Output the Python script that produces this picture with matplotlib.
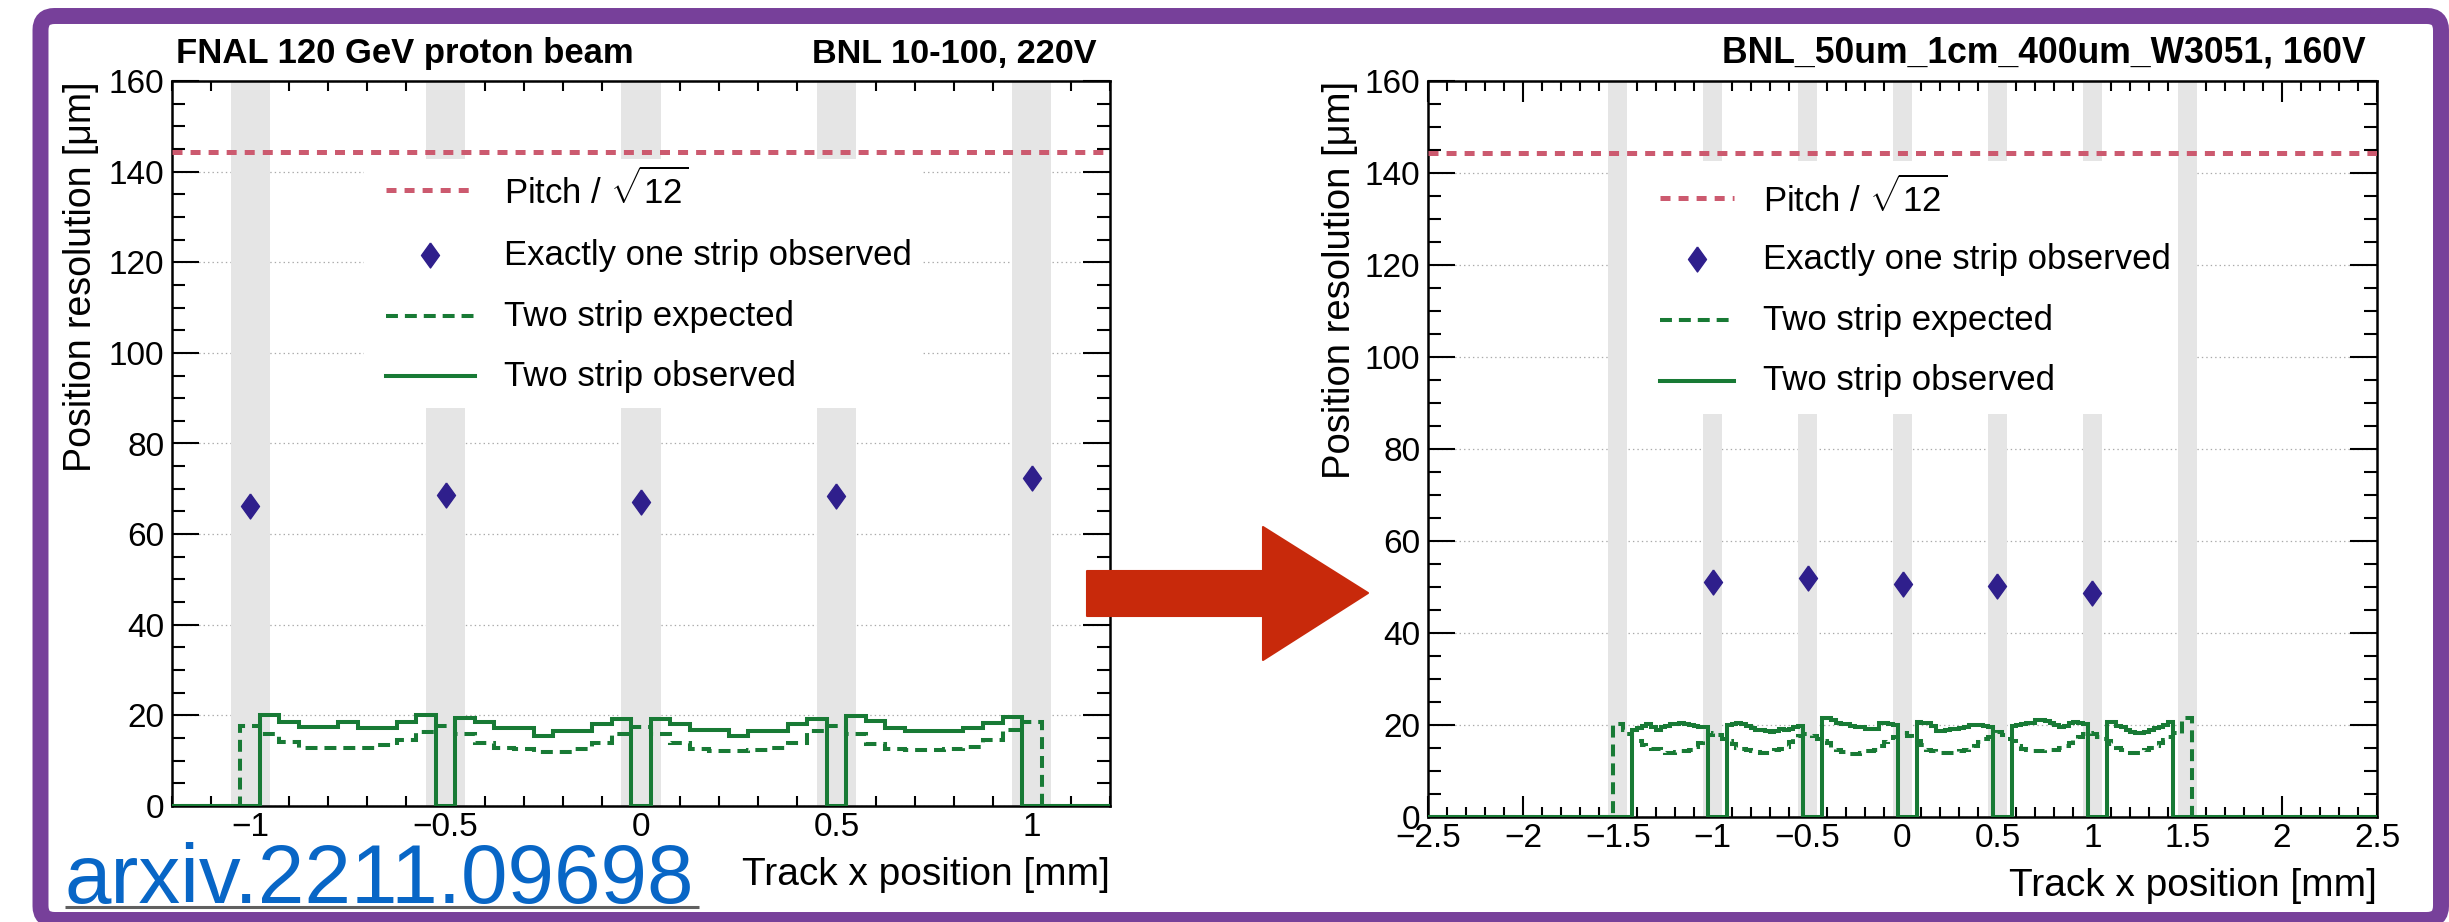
"""Position resolution vs track x: FNAL 10-100 sensor (left) -> BNL 50um sensor (right)."""
import numpy as np
import matplotlib
matplotlib.use("Agg")
import matplotlib.pyplot as plt
from matplotlib.patches import Rectangle, FancyBboxPatch, Polygon
from matplotlib.ticker import MultipleLocator

plt.rcParams["font.family"] = ["Liberation Sans", "DejaVu Sans"]
plt.rcParams["mathtext.fontset"] = "custom"
plt.rcParams["mathtext.rm"] = "Liberation Sans"
plt.rcParams["lines.scale_dashes"] = False

W, H, DPI = 2449, 922, 100

# ── data ────────────────────────────────────────────────────────────────
pitch_res = 144.3                      # 500 um / sqrt(12)

# left: BNL 10-100, 0.05 mm bins centred on -1.0 ... 1.0
left_strips = [-1.0, -0.5, 0.0, 0.5, 1.0]
left_one_strip = [66.3, 68.7, 67.0, 68.5, 72.3]
left_two_expected = [
    17.7,
    15.9, 14.2, 12.9, 12.9, 12.9, 12.9, 13.5, 14.5, 16.3,
    17.7,
    15.9, 14.0, 12.9, 12.5, 12.0, 12.0, 12.5, 14.0, 16.0,
    17.5,
    15.9, 14.0, 12.6, 12.1, 12.1, 12.4, 12.9, 14.0, 16.5,
    17.7,
    15.9, 13.7, 12.6, 12.3, 12.3, 12.6, 13.0, 14.6, 16.7,
    18.5]
left_two_observed = [
    0.0,
    20.0, 18.5, 17.5, 17.5, 18.5, 17.3, 17.3, 18.5, 20.0,
    0.0,
    19.4, 18.5, 17.3, 17.3, 15.4, 16.5, 16.5, 18.2, 19.2,
    0.0,
    19.1, 18.1, 16.7, 16.7, 15.4, 16.5, 16.5, 18.1, 19.2,
    0.0,
    19.8, 18.7, 17.2, 16.5, 16.5, 16.5, 17.2, 18.4, 19.6,
    0.0]

# right: BNL_50um_1cm_400um_W3051, 0.025 mm bins from -1.525 to 1.525
right_strips = [-1.5, -1.0, -0.5, 0.0, 0.5, 1.0, 1.5]
right_one_x = [-1.0, -0.5, 0.0, 0.5, 1.0]
right_one_strip = [51.0, 52.0, 50.6, 50.3, 48.6]
right_two_expected = [
    20.2, 20.2, 19.0, 18.0,
    16.8, 16.5, 15.6, 15.0, 14.8, 14.7, 14.3, 14.0, 14.0, 14.1, 14.3, 14.4, 14.6, 15.2, 16.0, 16.8,
    17.8, 18.3, 17.8, 17.0,
    16.5, 15.8, 15.0, 14.8, 14.6, 14.4, 14.2, 14.0, 14.0, 14.2, 14.5, 14.8, 15.3, 16.2, 17.0, 17.6,
    18.0, 18.0, 17.6, 17.0,
    16.6, 16.0, 15.0, 14.6, 14.2, 14.0, 13.8, 13.7, 14.0, 14.3, 14.4, 14.6, 15.4, 16.3, 16.8, 17.4,
    18.0, 18.3, 17.6, 16.9,
    16.5, 15.6, 14.6, 14.4, 14.2, 14.0, 14.0, 14.0, 14.2, 14.4, 14.5, 14.9, 15.5, 16.2, 16.9, 17.5,
    18.2, 18.5, 17.8, 17.0,
    16.5, 15.5, 14.8, 14.5, 14.4, 14.3, 14.3, 14.5, 14.6, 14.6, 14.9, 15.4, 16.1, 16.8, 17.5, 18.0,
    18.3, 18.0, 17.5, 16.9,
    16.5, 15.8, 15.0, 14.6, 14.3, 14.0, 14.0, 14.2, 14.5, 14.9, 15.5, 16.1, 16.8, 17.5,
    18.2, 18.0, 21.5, 21.5]
right_two_observed = [
    0.0, 0.0, 0.0, 0.0,
    18.9, 19.3, 19.8, 20.3, 19.6, 19.0, 19.5, 19.8, 20.2, 20.3, 20.4, 20.3, 20.0, 19.7, 19.6, 19.6,
    0.0, 0.0, 0.0, 0.0,
    20.0, 20.2, 20.4, 20.3, 19.8, 19.3, 19.0, 18.9, 18.6, 18.5, 18.7, 19.1, 19.0, 19.2, 19.5, 19.8,
    0.0, 0.0, 0.0, 0.0,
    21.5, 21.5, 21.0, 20.5, 20.3, 20.2, 19.8, 19.6, 19.5, 19.2, 19.1, 19.2, 20.4, 20.5, 20.3, 19.9,
    0.0, 0.0, 0.0, 0.0,
    20.6, 20.5, 20.4, 19.8, 18.8, 18.6, 18.9, 19.1, 19.2, 19.4, 19.6, 19.9, 20.0, 20.1, 19.7, 19.6,
    0.0, 0.0, 0.0, 0.0,
    19.8, 20.0, 20.3, 20.4, 20.4, 21.0, 21.1, 20.8, 20.5, 20.1, 19.6, 19.7, 20.5, 20.6, 20.4, 20.2,
    0.0, 0.0, 0.0, 0.0,
    20.7, 20.6, 19.8, 19.6, 18.9, 18.5, 18.3, 18.2, 18.4, 18.9, 19.3, 19.6, 20.1, 20.6,
    0.0, 0.0, 0.0, 0.0]

legend_labels = [r"Pitch / $\sqrt{12}$", "Exactly one strip observed",
                 "Two strip expected", "Two strip observed"]
left_titles = ["FNAL 120 GeV proton beam", "BNL 10-100, 220V"]
right_title = "BNL_50um_1cm_400um_W3051, 160V"
link_text = "arxiv.2211.09698"

# ── style ───────────────────────────────────────────────────────────────
GREEN = "#187a35"
PINK = "#cc5a6f"
NAVY = "#2f1f8c"
BAND = "#e5e5e5"
PURPLE = "#77409a"
ARROW = "#c8290b"
LINK = "#0866c6"
DIAMOND = [(0, 1), (0.72, 0), (0, -1), (-0.72, 0), (0, 1)]
DASH_GREEN = (0, (8.6, 5.0))
DASH_PINK = (0, (7.2, 5.8))

fig = plt.figure(figsize=(W / DPI, H / DPI), dpi=DPI, facecolor="white")


def axes_px(x0, x1, top, bottom):
    """Axes from pixel box (top-left origin)."""
    return fig.add_axes([x0 / W, (H - bottom) / H, (x1 - x0) / W, (bottom - top) / H])


def hist_edges(lo, width, n, pad):
    return lo - pad * width + width * np.arange(n + 2 * pad + 1)


def draw_panel(ax, xlim, bands, edges, pad, expected, observed, one_x, one_y,
               box, rows, line_x, diamond_x, text_x):
    ax.set_xlim(*xlim)
    ax.set_ylim(0, 160)
    ax.set_axisbelow(True)
    ax.yaxis.grid(True, color="#aaaaaa", lw=0.9, linestyle=(0, (1.0, 2.2)))
    for s in bands:
        ax.axvspan(s - 0.05, s + 0.05, color=BAND, lw=0, zorder=1)

    ax.stairs(np.pad(expected, pad), edges, color=GREEN, lw=2.9,
              linestyle=DASH_GREEN, zorder=3)
    ax.stairs(np.pad(observed, pad), edges, color=GREEN, lw=2.9, zorder=3)
    ax.axhline(pitch_res, color=PINK, lw=3.6, linestyle=DASH_PINK, zorder=3)
    ax.plot(one_x, one_y, linestyle="none", marker=DIAMOND, ms=18,
            color=NAVY, mec=NAVY, zorder=4)

    # legend: white box that hides bands and grid behind it
    x0, y0, x1, y1 = box
    ax.add_patch(Rectangle((x0, y0), x1 - x0, y1 - y0, facecolor="white",
                           edgecolor="none", zorder=2))
    ax.plot(line_x, [rows[0]] * 2, color=PINK, lw=3.6, linestyle=DASH_PINK, zorder=5)
    ax.plot([diamond_x], [rows[1]], marker=DIAMOND, ms=18, color=NAVY, zorder=5)
    ax.plot(line_x, [rows[2]] * 2, color=GREEN, lw=2.9, linestyle=DASH_GREEN, zorder=5)
    ax.plot(line_x, [rows[3]] * 2, color=GREEN, lw=2.9, zorder=5)
    for label, y in zip(legend_labels, rows):
        ax.text(text_x, y, label, fontsize=25, va="center", ha="left", zorder=5)

    # ROOT-like frame and ticks
    for sp in ax.spines.values():
        sp.set_linewidth(1.8)
    ax.xaxis.set_major_locator(MultipleLocator(0.5))
    ax.xaxis.set_minor_locator(MultipleLocator(0.1))
    ax.yaxis.set_major_locator(MultipleLocator(20))
    ax.yaxis.set_minor_locator(MultipleLocator(5))
    ax.tick_params(which="both", direction="in", top=True, right=True,
                   width=1.5, labelsize=24)
    ax.tick_params(axis="x", which="major", length=15, pad=4)
    ax.tick_params(axis="x", which="minor", length=7.2)
    ax.tick_params(axis="y", which="major", length=19.5, pad=5.5)
    ax.tick_params(axis="y", which="minor", length=9.6)
    ax.xaxis.set_major_formatter(lambda v, p: f"{v:g}".replace("-", "\u2212"))


# left panel
ax1 = axes_px(172, 1110, 81, 806)
draw_panel(ax1, (-1.2, 1.2), left_strips,
           hist_edges(-1.025, 0.05, len(left_two_observed), 4), 4,
           left_two_expected, left_two_observed, left_strips, left_one_strip,
           box=(-0.71, 87.9, 0.716, 142.7), rows=[136.0, 121.6, 108.1, 94.8],
           line_x=[-0.653, -0.425], diamond_x=-0.539, text_x=-0.35)
ax1.set_ylabel("Position resolution [μm]", fontsize=27, loc="top")
ax1.yaxis.set_label_coords(-0.078, 1.0)
ax1.set_xlabel("Track x position [mm]", fontsize=28, loc="right")
ax1.xaxis.set_label_coords(1.0, -0.07)

# right panel
ax2 = axes_px(1428, 2377, 81, 817)
draw_panel(ax2, (-2.5, 2.5), right_strips,
           hist_edges(-1.525, 0.025, len(right_two_observed), 39), 39,
           right_two_expected, right_two_observed, right_one_x, right_one_strip,
           box=(-1.445, 87.6, 1.445, 142.6), rows=[134.6, 121.3, 108.0, 94.8],
           line_x=[-1.28, -0.886], diamond_x=-1.083, text_x=-0.737)
ax2.set_ylabel("Position resolution [μm]", fontsize=27.5, loc="top")
ax2.yaxis.set_label_coords(-0.074, 1.0)
ax2.set_xlabel("Track x position [mm]", fontsize=28, loc="right")
ax2.xaxis.set_label_coords(1.0, -0.069)

# ── overlay in pixel coordinates: frame, titles, arrow, link ────────────
ov = fig.add_axes([0, 0, 1, 1], zorder=10)
ov.set_xlim(0, W)
ov.set_ylim(H, 0)
ov.axis("off")
ov.patch.set_alpha(0)

ov.add_patch(FancyBboxPatch((40.5, 16), 2400.5, 904,
                            boxstyle="round,pad=0,rounding_size=14",
                            facecolor="none", edgecolor=PURPLE, lw=11.5))
ov.add_patch(Polygon([(1087, 571), (1263, 571), (1263, 527), (1368, 593),
                      (1263, 660), (1263, 616), (1087, 616)],
                     closed=True, facecolor=ARROW, edgecolor=ARROW, lw=1.5,
                     joinstyle="round"))


def fit_width(txt, target_px):
    fig.canvas.draw()
    w = txt.get_window_extent().width
    txt.set_fontsize(txt.get_fontsize() * target_px / w)


t1 = ov.text(176, 63, left_titles[0], fontsize=24, weight="bold", va="baseline", ha="left")
t2 = ov.text(1097, 63, left_titles[1], fontsize=24, weight="bold", va="baseline", ha="right")
t3 = ov.text(2366, 63, right_title, fontsize=24, weight="bold", va="baseline", ha="right")
link = ov.text(65, 903, link_text, fontsize=60, color=LINK, va="baseline", ha="left",
               family=["Liberation Sans Narrow", "Liberation Sans", "DejaVu Sans"])
for t, w in [(t1, 458), (t2, 286), (t3, 646), (link, 631)]:
    fit_width(t, w)
ov.plot([65, 699], [906.5, 906.5], color="#606060", lw=2.2, solid_capstyle="butt")

fig.savefig("out.png", dpi=DPI, facecolor="white")
